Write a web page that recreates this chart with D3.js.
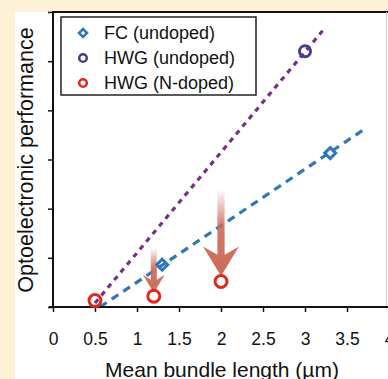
<!DOCTYPE html>
<html>
<head>
<meta charset="utf-8">
<script src="https://cdn.jsdelivr.net/npm/d3@7"></script>
<style>
  body { margin: 0; background: #fdf2d6; }
  svg { display: block; font-family: "Liberation Sans", Arial, sans-serif; }
</style>
</head>
<body>
<svg id="myGraph" width="388" height="379"></svg>
<script>
// data
var xTicks = [0, 0.5, 1, 1.5, 2, 2.5, 3, 3.5, 4]
var yTicks = [0, 1, 2, 3, 4, 5, 6]

var fcX = [1.3, 3.3]
var fcY = [0.86, 3.13]
var hwgX = [3.0]
var hwgY = [5.2]
var ndopX = [0.5, 1.2, 2.0]
var ndopY = [0.13, 0.22, 0.52]

// fit lines (start / end)
var fcLineX = [0.56, 3.71]
var fcLineY = [0, 3.62]
var hwgLineX = [0.5, 3.21]
var hwgLineY = [0.08, 5.62]

// down arrows: x, top, tip
var arrowX = [1.2, 2.0]
var arrowTop = [1.2, 2.4]
var arrowTip = [0.29, 0.63]
var arrowHead = [22, 36]

var legendNames = ["FC (undoped)", "HWG (undoped)", "HWG (N-doped)"]

var blue = "#2f77b8", purple = "#7b2c8c", navy = "#4a3a8c", red = "#e3261f", arrowCol = "#cc6a58"

var svg = d3.select("#myGraph")

// white panel over the cream background
svg.append("rect").attr("x", 15).attr("y", 12).attr("width", 373).attr("height", 367).attr("fill", "#fff")

var xScale = d3.scaleLinear().domain([0, 4]).range([53, 389])
var yScale = d3.scaleLinear().domain([0, 6]).range([307, 12])

// top frame line and faint right edge
svg.append("line").attr("x1", 52).attr("x2", 388).attr("y1", 12).attr("y2", 12)
  .attr("stroke", "#111").attr("stroke-width", 2)
svg.append("line").attr("x1", 386.5).attr("x2", 386.5).attr("y1", 12).attr("y2", 309)
  .attr("stroke", "#ccc").attr("stroke-width", 1)

// defs: arrow gradient
var defs = svg.append("defs")
var grad = defs.append("linearGradient").attr("id", "fade")
  .attr("x1", 0).attr("y1", 0).attr("x2", 0).attr("y2", 1)
grad.append("stop").attr("offset", "0%").attr("stop-color", arrowCol).attr("stop-opacity", 0)
grad.append("stop").attr("offset", "45%").attr("stop-color", arrowCol).attr("stop-opacity", 0.9)
grad.append("stop").attr("offset", "100%").attr("stop-color", arrowCol).attr("stop-opacity", 1)

// fit lines
var line = d3.line().x(function(d) { return xScale(d[0]) }).y(function(d) { return yScale(d[1]) })
svg.append("path")
  .attr("d", line(d3.zip(hwgLineX, hwgLineY)))
  .attr("stroke", purple).attr("stroke-width", 3.2).attr("fill", "none")
  .attr("stroke-dasharray", "5,5")
svg.append("path")
  .attr("d", line(d3.zip(fcLineX, fcLineY)))
  .attr("stroke", blue).attr("stroke-width", 3.2).attr("fill", "none")
  .attr("stroke-dasharray", "8,6")

// arrows
arrowX.forEach(function(x, i) {
  var cx = xScale(x), top = yScale(arrowTop[i]), tip = yScale(arrowTip[i])
  var hw = arrowHead[i] / 2, hh = arrowHead[i] * 0.82, sw = i == 0 ? 3 : 3.6
  var base = tip - hh
  var p = d3.path()
  p.moveTo(cx - sw, top)
  p.lineTo(cx + sw, top)
  p.lineTo(cx + sw, base + hh * 0.28)
  p.lineTo(cx + hw, base)
  p.lineTo(cx, tip)
  p.lineTo(cx - hw, base)
  p.lineTo(cx - sw, base + hh * 0.28)
  p.closePath()
  svg.append("path").attr("d", p.toString()).attr("fill", "url(#fade)")
})

// axes
var xAxis = d3.axisBottom(xScale).tickValues(xTicks).tickSize(5).tickFormat(d3.format("~g"))
var gx = svg.append("g").attr("transform", "translate(0," + 307 + ")").call(xAxis)
gx.select(".domain").attr("stroke", "#111").attr("stroke-width", 2).attr("d", "M49,0H388")
gx.selectAll(".tick line").attr("stroke", "#111").attr("stroke-width", 1.5)
gx.selectAll(".tick text").attr("font-size", 17.5).attr("fill", "#111").attr("y", 38).attr("dy", 0)

var yAxis = d3.axisLeft(yScale).tickValues(yTicks).tickSize(5).tickFormat("")
var gy = svg.append("g").attr("transform", "translate(53,0)").call(yAxis)
gy.select(".domain").attr("stroke", "#111").attr("stroke-width", 2).attr("d", "M0,11V308")
gy.selectAll(".tick line").attr("stroke", "#111").attr("stroke-width", 1.5)

// markers
function diamond(sel, s) {
  return sel.attr("d", "M0," + (-s) + "L" + s + ",0L0," + s + "L" + (-s) + ",0Z")
}
svg.selectAll(".fc").data(d3.zip(fcX, fcY)).enter().append("path")
  .attr("class", "fc")
  .attr("transform", function(d) { return "translate(" + xScale(d[0]) + "," + yScale(d[1]) + ")" })
  .call(diamond, 5.5)
  .attr("fill", "none").attr("stroke", blue).attr("stroke-width", 3)
svg.selectAll(".hwg").data(d3.zip(hwgX, hwgY)).enter().append("circle")
  .attr("cx", function(d) { return xScale(d[0]) }).attr("cy", function(d) { return yScale(d[1]) })
  .attr("r", 5.5).attr("fill", "none").attr("stroke", navy).attr("stroke-width", 3)
svg.selectAll(".nd").data(d3.zip(ndopX, ndopY)).enter().append("circle")
  .attr("cx", function(d) { return xScale(d[0]) }).attr("cy", function(d) { return yScale(d[1]) })
  .attr("r", 6).attr("fill", "none").attr("stroke", red).attr("stroke-width", 3)

// legend
var lg = svg.append("g")
lg.append("rect").attr("x", 61).attr("y", 17).attr("width", 195).attr("height", 78)
  .attr("fill", "#fff").attr("stroke", "#222").attr("stroke-width", 1.5)
legendNames.forEach(function(name, i) {
  var y = 33 + i * 25
  if (i == 0) {
    lg.append("path").attr("transform", "translate(83," + y + ")").call(diamond, 4)
      .attr("fill", "none").attr("stroke", blue).attr("stroke-width", 2.5)
  } else {
    lg.append("circle").attr("cx", 83).attr("cy", y).attr("r", 3.8)
      .attr("fill", "none").attr("stroke", i == 1 ? navy : red).attr("stroke-width", 2.5)
  }
  lg.append("text").attr("x", 104).attr("y", y).attr("dy", "0.36em")
    .attr("font-size", 18).attr("fill", "#111").text(name)
})

// axis titles
svg.append("text").attr("x", 222).attr("y", 377).attr("text-anchor", "middle")
  .attr("font-size", 21).attr("fill", "#111").text("Mean bundle length (\u00b5m)")
svg.append("text").attr("transform", "translate(33,160) rotate(-90)").attr("text-anchor", "middle")
  .attr("font-size", 21.5).attr("fill", "#111").text("Optoelectronic performance")
</script>
</body>
</html>
